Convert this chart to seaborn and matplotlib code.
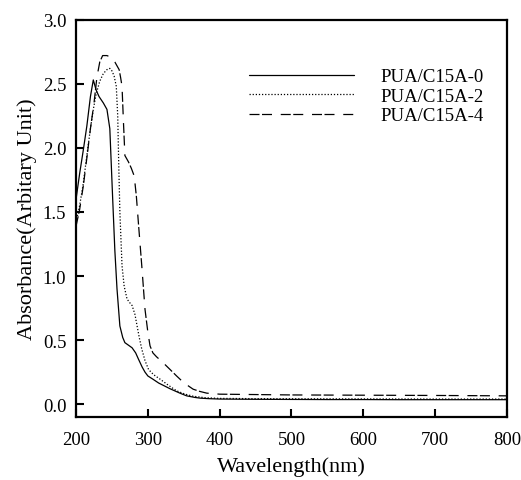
import numpy as np
import pandas as pd
import seaborn as sns
import matplotlib.pyplot as plt

# PUA/C15A-0
wl_0 = [200, 205, 210, 215, 220, 224, 228, 232, 238, 243, 247, 251, 254, 257, 261, 265,
        268, 273, 278, 283, 287, 292, 296, 300, 307, 315, 331, 345, 354, 365, 373, 385,
        400, 450, 500, 550, 600, 650, 700, 750, 800]
abs_0 = [1.60, 1.80, 1.98, 2.17, 2.40, 2.53, 2.45, 2.40, 2.35, 2.30, 2.15, 1.60, 1.20, 0.90,
         0.61, 0.52, 0.48, 0.46, 0.44, 0.40, 0.35, 0.29, 0.25, 0.22, 0.195, 0.165, 0.12,
         0.085, 0.065, 0.053, 0.047, 0.043, 0.040, 0.038, 0.037, 0.036, 0.036, 0.035, 0.035,
         0.035, 0.035]

# PUA/C15A-2
wl_2 = [200, 205, 210, 215, 220, 224, 228, 233, 238, 243, 247, 250, 253, 256, 258, 259.5,
        261, 264, 267, 271, 275, 278, 282, 285, 288, 291.5, 296, 301, 308, 317, 328, 340,
        352, 363, 380, 400, 450, 500, 600, 700, 800]
abs_2 = [1.42, 1.55, 1.72, 1.94, 2.15, 2.30, 2.42, 2.52, 2.58, 2.61, 2.62, 2.60, 2.56, 2.48,
         2.25, 1.85, 1.50, 1.08, 0.92, 0.82, 0.79, 0.77, 0.70, 0.61, 0.52, 0.43, 0.34, 0.27,
         0.23, 0.195, 0.15, 0.104, 0.078, 0.062, 0.050, 0.045, 0.043, 0.042, 0.041, 0.040,
         0.040]

# PUA/C15A-4
wl_4 = [200, 205, 210, 215, 220, 225, 229, 233, 237, 243, 247, 251, 254, 257, 260, 262, 264,
        266, 268, 273, 277, 281, 284, 287, 291.5, 296, 300, 303, 307, 312, 320, 331, 340,
        349.5, 357, 363, 372, 382, 400, 450, 500, 600, 700, 800]
abs_4 = [1.39, 1.52, 1.70, 1.92, 2.15, 2.35, 2.55, 2.67, 2.72, 2.72, 2.71, 2.69, 2.67, 2.64,
         2.61, 2.55, 2.48, 2.20, 1.94, 1.89, 1.84, 1.78, 1.62, 1.40, 1.08, 0.74, 0.56, 0.455,
         0.40, 0.37, 0.33, 0.27, 0.22, 0.17, 0.14, 0.117, 0.10, 0.086, 0.078, 0.075, 0.072,
         0.070, 0.068, 0.065]

labels = ["PUA/C15A-0", "PUA/C15A-2", "PUA/C15A-4"]
styles = ["-", (0, (1, 1.5)), (0, (8, 2, 8, 7))]

sns.set_style("ticks")
plt.rcParams["font.family"] = ["Liberation Serif", "DejaVu Serif"]
plt.rcParams["xtick.direction"] = "in"
plt.rcParams["ytick.direction"] = "in"
plt.rcParams["text.color"] = "black"
plt.rcParams["axes.labelcolor"] = "black"

fig = plt.figure(figsize=(5.21, 4.81), dpi=100)
ax = fig.add_axes([0.146, 0.131, 0.827, 0.826])

for wl, ab, lab, ls in zip([wl_0, wl_2, wl_4], [abs_0, abs_2, abs_4], labels, styles):
    df = pd.DataFrame({"wl": wl, "abs": ab})
    sns.lineplot(data=df, x="wl", y="abs", ax=ax, color="black", linewidth=0.9,
                 linestyle=ls, label=lab)

ax.set_xlim(200, 800)
ax.set_ylim(-0.1, 3.0)
ax.set_xticks(np.arange(200, 801, 100))
ax.set_yticks(np.arange(0, 3.01, 0.5))
ax.set_yticklabels([f"{v:.1f}" for v in np.arange(0, 3.01, 0.5)])
ax.tick_params(labelsize=13.5, width=1.5, length=6, colors="black")
ax.tick_params(axis="x", pad=10)
ax.tick_params(axis="y", pad=7)
for s in ax.spines.values():
    s.set_linewidth(1.6)
    s.set_color("black")
ax.set_xlabel("Wavelength(nm)", fontsize=16, labelpad=6)
ax.set_ylabel("Absorbance(Arbitary Unit)", fontsize=16, labelpad=4)

leg = ax.legend(loc="upper right", frameon=False, fontsize=13.5, handlelength=5.6,
                handletextpad=1.4, labelspacing=0.12, bbox_to_anchor=(0.985, 0.92))
for t in leg.get_texts():
    t.set_color("black")

fig.savefig("out.png", dpi=100)
